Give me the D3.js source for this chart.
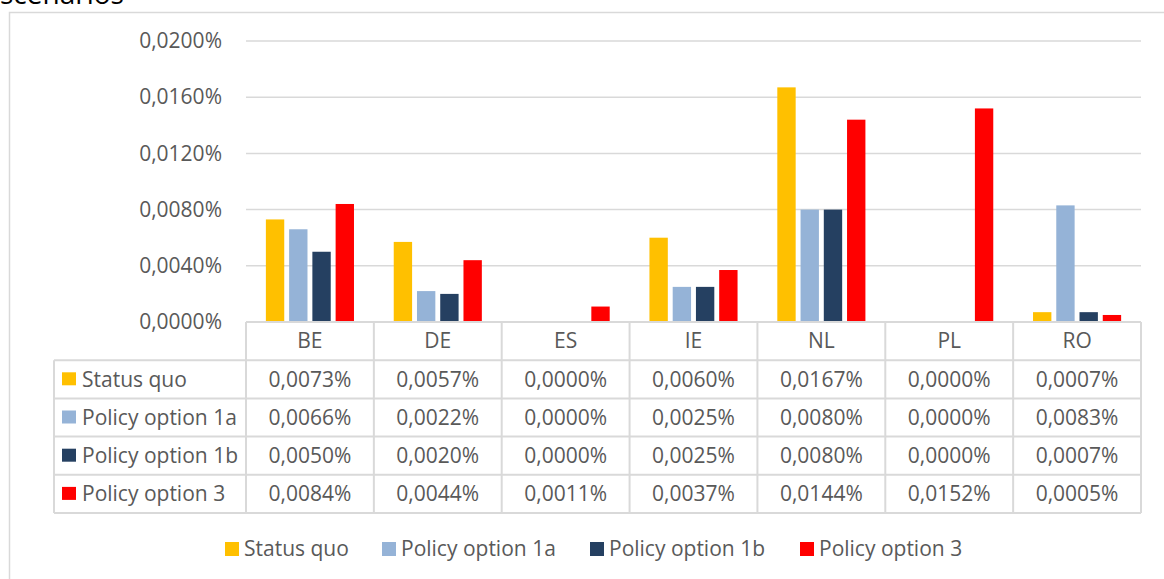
<!DOCTYPE html>
<html><head><meta charset="utf-8">
<script src="https://cdn.jsdelivr.net/npm/d3@7"></script>
<style>body{margin:0;background:#fff;} text{font-family:"Open Sans",sans-serif;fill:#595959;}</style>
</head><body>
<svg id="c" width="1164" height="579"></svg>
<script>
const categories = ["BE","DE","ES","IE","NL","PL","RO"];
const seriesNames = ["Status quo","Policy option 1a","Policy option 1b","Policy option 3"];
const statusQuo = [0.0073,0.0057,0.0000,0.0060,0.0167,0.0000,0.0007];
const option1a = [0.0066,0.0022,0.0000,0.0025,0.0080,0.0000,0.0083];
const option1b = [0.0050,0.0020,0.0000,0.0025,0.0080,0.0000,0.0007];
const option3 = [0.0084,0.0044,0.0011,0.0037,0.0144,0.0152,0.0005];
const yTicks = [0,0.004,0.008,0.012,0.016,0.02];
const colors = ["#FFC000","#95B3D7","#254061","#FF0000"];
const seriesValues = [statusQuo, option1a, option1b, option3];

(function(){
const fmt = v => v.toFixed(4).replace(".", ",") + "%";
const svg = d3.select("#c");
const FS = "21px";

// frame
svg.append("path").attr("d","M9.5,600 V12.5 H1170").attr("fill","none").attr("stroke","#d9d9d9").attr("stroke-width",1.5);
// cut-off title
svg.append("text").attr("x",0).attr("y",4).style("font-size","28px").style("fill","#000").text("scenarios");

const pLeft = 246, pRight = 1141, pTop = 41, pBottom = 322;
const x0 = d3.scaleBand().domain(categories).range([pLeft, pRight]);
const groupW = x0.bandwidth() * 4 / 5.5;
const x1 = d3.scaleBand().domain(seriesNames).range([0, groupW]).paddingInner(0.21).paddingOuter(0.105);
const y = d3.scaleLinear().domain([0, 0.02]).range([pBottom, pTop]);

// gridlines
svg.append("g").selectAll("line").data(yTicks.filter(d=>d>0)).join("line")
  .attr("x1", pLeft).attr("x2", pRight).attr("y1", d=>y(d)).attr("y2", d=>y(d))
  .attr("stroke","#d9d9d9").attr("stroke-width",1.5);

// y axis labels
const yAxis = d3.axisLeft(y).tickValues(yTicks).tickFormat(fmt).tickSize(0).tickPadding(24);
const ya = svg.append("g").attr("transform",`translate(${pLeft},0)`).call(yAxis);
ya.select(".domain").remove();
ya.selectAll("text").style("font-size",FS).style("font-family","'Open Sans',sans-serif").attr("fill","#595959");

// bars
const grp = svg.append("g").selectAll("g").data(categories).join("g")
  .attr("transform", c => `translate(${x0(c) + (x0.bandwidth()-groupW)/2},0)`);
grp.selectAll("rect").data((c,i) => seriesNames.map((s,k)=>({s, k, v: seriesValues[k][i]})))
  .join("rect")
  .attr("x", d => x1(d.s)).attr("width", x1.bandwidth())
  .attr("y", d => y(d.v)).attr("height", d => pBottom - y(d.v))
  .attr("fill", d => colors[d.k]);

// data table
const rowH = 38.2;
const tblTop = pBottom, labelLeft = 54;
const rowsY = d3.range(6).map(i => tblTop + i*rowH);
const lineC = "#d9d9d9";
const tg = svg.append("g");
tg.append("line").attr("x1",pLeft).attr("x2",pRight).attr("y1",rowsY[0]).attr("y2",rowsY[0]).attr("stroke",lineC).attr("stroke-width",2);
for (let i=1;i<6;i++) tg.append("line").attr("x1",labelLeft).attr("x2",pRight).attr("y1",rowsY[i]).attr("y2",rowsY[i]).attr("stroke",lineC).attr("stroke-width",2);
tg.append("line").attr("x1",labelLeft).attr("x2",labelLeft).attr("y1",rowsY[1]).attr("y2",rowsY[5]).attr("stroke",lineC).attr("stroke-width",2);
tg.selectAll(".v").data(categories.concat(["_end"])).join("line")
  .attr("x1",(c,i)=>pLeft + i*x0.bandwidth()).attr("x2",(c,i)=>pLeft + i*x0.bandwidth())
  .attr("y1",rowsY[0]).attr("y2",rowsY[5]).attr("stroke",lineC).attr("stroke-width",2);
tg.selectAll(".cat").data(categories).join("text")
  .attr("x", c => x0(c) + x0.bandwidth()/2).attr("y", (rowsY[0]+rowsY[1])/2)
  .attr("text-anchor","middle").attr("dy","0.35em").style("font-size",FS).text(c=>c);
seriesNames.forEach((s,k) => {
  const cy = (rowsY[k+1]+rowsY[k+2])/2;
  tg.append("rect").attr("x",62).attr("y",cy-7).attr("width",14).attr("height",13).attr("fill",colors[k]);
  tg.append("text").attr("x",82).attr("y",cy).attr("dy","0.35em").style("font-size",FS).text(s);
  tg.append("g").selectAll("text").data(categories).join("text")
    .attr("x", c => x0(c) + x0.bandwidth()/2).attr("y", cy).attr("dy","0.35em")
    .attr("text-anchor","middle").style("font-size",FS)
    .text((c,i) => fmt(seriesValues[k][i]));
});

// legend
const legX = [225, 382, 590, 800];
const lg = svg.append("g");
seriesNames.forEach((s,k) => {
  lg.append("rect").attr("x",legX[k]).attr("y",542).attr("width",14).attr("height",14).attr("fill",colors[k]);
  lg.append("text").attr("x",legX[k]+19).attr("y",549).attr("dy","0.35em").style("font-size",FS).text(s);
});
})();
</script>
</body></html>
